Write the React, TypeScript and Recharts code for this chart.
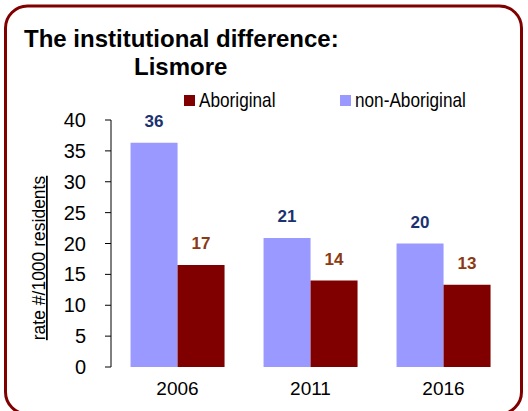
import { BarChart, Bar, XAxis, YAxis, LabelList } from "recharts";

const categories = ["2006", "2011", "2016"];
const nonAboriginal = [36.3, 20.9, 20.0];
const aboriginal = [16.5, 14.0, 13.3];
const yTicks = [0, 5, 10, 15, 20, 25, 30, 35, 40];

const legendItems = [
  { name: "Aboriginal", color: "#800000", box: 184, text: 199 },
  { name: "non-Aboriginal", color: "#9999FF", box: 340, text: 355 },
];

const data = categories.map((year, i) => ({
  year,
  nonAboriginal: nonAboriginal[i],
  aboriginal: aboriginal[i],
}));

const font = "'Liberation Sans', Arial, sans-serif";

const YLabel = () => (
  <text
    x={45}
    y={258}
    transform="rotate(-90, 45, 258)"
    textAnchor="middle"
    fontSize={17.5}
    fill="#000"
    textDecoration="underline"
  >
    rate #/1000 residents
  </text>
);

const App = () => {
  return (
    <div
      style={{
        position: "absolute",
        left: 0,
        top: 0,
        width: 528,
        height: 411,
        overflow: "hidden",
        background: "#fff",
        fontFamily: font,
      }}
    >
      <svg
        width={528}
        height={411}
        style={{ position: "absolute", left: 0, top: 0, fontFamily: font }}
      >
        <rect
          x={5.5}
          y={6}
          width={516}
          height={408}
          rx={22}
          fill="#fff"
          stroke="#800000"
          strokeWidth={3}
        />
        <text x={24} y={47} fontSize={24} fontWeight={700} fill="#000">
          The institutional difference:
        </text>
        <text x={134} y={75} fontSize={24} fontWeight={700} fill="#000">
          Lismore
        </text>
        {legendItems.map((item) => (
          <g key={item.name}>
            <rect x={item.box} y={95} width={11} height={11} fill={item.color} />
            <text
              transform={`translate(${item.text},106.5) scale(0.86,1)`}
              fontSize={20}
              fill="#000"
            >
              {item.name}
            </text>
          </g>
        ))}
      </svg>
      <div style={{ position: "absolute", left: 0, top: 0 }}>
        <BarChart
          width={528}
          height={411}
          data={data}
          margin={{ top: 120, right: 18, bottom: 14, left: 0 }}
          barCategoryGap="14.7%"
          barGap={0}
        >
          <XAxis
            dataKey="year"
            axisLine={false}
            tickLine={false}
            tickMargin={9}
            tick={{ fontSize: 19, fill: "#000" }}
          />
          <YAxis
            domain={[0, 40]}
            ticks={yTicks}
            interval={0}
            width={111}
            axisLine={{ stroke: "#000" }}
            tickLine={{ stroke: "#000" }}
            tickSize={6}
            tickMargin={19}
            tick={{ fontSize: 20, fill: "#000" }}
            label={<YLabel />}
          />
          <Bar dataKey="nonAboriginal" fill="#9999FF" isAnimationActive={false}>
            <LabelList
              dataKey="nonAboriginal"
              position="top"
              offset={16}
              formatter={(v: number) => Math.round(v)}
              fill="#1A3270"
              fontSize={17}
              fontWeight={700}
            />
          </Bar>
          <Bar dataKey="aboriginal" fill="#800000" isAnimationActive={false}>
            <LabelList
              dataKey="aboriginal"
              position="top"
              offset={16}
              formatter={(v: number) => Math.round(v)}
              fill="#8B3A12"
              fontSize={17}
              fontWeight={700}
            />
          </Bar>
        </BarChart>
      </div>
    </div>
  );
};

export default App;
